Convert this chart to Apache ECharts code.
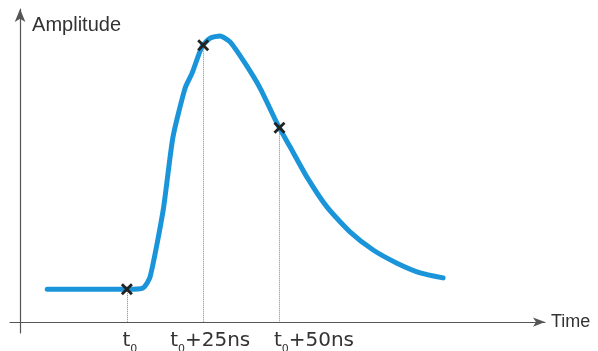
<!DOCTYPE html>
<html>
<head>
<meta charset="utf-8">
<script src="https://cdn.jsdelivr.net/npm/echarts@6/dist/echarts.min.js"></script>
<style>html,body{margin:0;padding:0;background:#fff}#c{width:598px;height:351px}</style>
</head>
<body>
<div id="c"></div>
<script>
// Time in ns (origin at the amplitude axis), amplitude in arbitrary units
const timeNs = [8.9, 35, 40.3, 42.6, 46.9, 50.1, 54.1, 56.4, 59.6, 62.3, 65.5, 68.8, 73.7, 78.6, 84.5, 88.5, 94.0, 100.6, 108.1, 115.7, 123.5, 131.1, 138.6];
const amplitude = [1.05, 1.05, 1.09, 1.44, 3.58, 5.91, 7.48, 7.96, 8.8, 9.07, 9.14, 8.95, 8.27, 7.48, 6.29, 5.59, 4.63, 3.67, 2.88, 2.30, 1.88, 1.57, 1.41];
const markTimes = [35, 60, 85];
const markAmps = [1.05, 8.84, 6.21];
// tick labels: base, subscript, suffix; and where (in ns) each label is centred
const tickLabels = [['t', '0', ''], ['t', '0', '+25ns'], ['t', '0', '+50ns']];
const labelAt = [36.0, 62.3, 96.3];
const xName = 'Time';
const yName = 'Amplitude';

const chart = echarts.init(document.getElementById('c'));
const curve = timeNs.map((t, i) => [t, amplitude[i]]);
const marks = markTimes.map((t, i) => [t, markAmps[i]]);
const dropLines = markTimes.map((t, i) => [{coord: [t, markAmps[i]]}, {coord: [t, 0]}]);
const crossPath = 'path://M2,0L6,4L10,0L12,2L8,6L12,10L10,12L6,8L2,12L0,10L4,6L0,2Z';
const F = 'Liberation Sans';
const FT = 'DejaVu Sans';

chart.setOption({
  animation: false,
  backgroundColor: '#fff',
  grid: {left: 10, right: 53, top: 9, bottom: 18, containLabel: false, outerBoundsMode: 'none'},
  xAxis: {
    type: 'value', min: -3.3, max: 172,
    name: xName, nameLocation: 'end', nameGap: 6,
    nameTextStyle: {color: '#333', fontSize: 18, fontFamily: F, verticalAlign: 'middle', align: 'left'},
    axisLine: {show: true, onZero: true, symbol: ['none', 'arrow'], symbolSize: [7, 12], lineStyle: {color: '#555', width: 1.2}},
    axisTick: {show: false},
    splitLine: {show: false},
    axisLabel: {
      show: true, customValues: labelAt, margin: -2, color: '#333', hideOverlap: false,
      formatter: function (v) {
        const i = labelAt.indexOf(v);
        if (i < 0) return '';
        const p = tickLabels[i];
        return '{a|' + p[0] + '}{s|' + p[1] + '}' + (p[2] ? '{a|' + p[2] + '}' : '');
      },
      rich: {
        a: {fontSize: 20, fontFamily: FT, color: '#333', lineHeight: 20, verticalAlign: 'top'},
        s: {fontSize: 11, fontFamily: FT, color: '#333', lineHeight: 36}
      }
    }
  },
  yAxis: {
    type: 'value', min: -0.35, max: 10,
    name: yName, nameLocation: 'end', nameGap: -16,
    nameTextStyle: {color: '#333', fontSize: 20, fontFamily: F, align: 'left', verticalAlign: 'middle', padding: [0, 0, 0, 12]},
    axisLine: {show: true, onZero: true, symbol: ['none', 'arrow'], symbolSize: [8, 13], lineStyle: {color: '#555', width: 1.2}},
    axisTick: {show: false},
    axisLabel: {show: false},
    splitLine: {show: false}
  },
  series: [
    {
      type: 'line', data: curve, smooth: 0.2, showSymbol: false, z: 3,
      lineStyle: {color: '#1b95d9', width: 5, cap: 'round', join: 'round'}
    },
    {
      type: 'scatter', data: marks, symbol: crossPath, symbolSize: 12, z: 5,
      itemStyle: {color: '#222', opacity: 1},
      markLine: {
        silent: true, symbol: ['none', 'none'], z: 2,
        label: {show: false},
        lineStyle: {color: '#888', type: 'dotted', width: 1},
        data: dropLines
      }
    }
  ]
});
</script>
</body>
</html>
